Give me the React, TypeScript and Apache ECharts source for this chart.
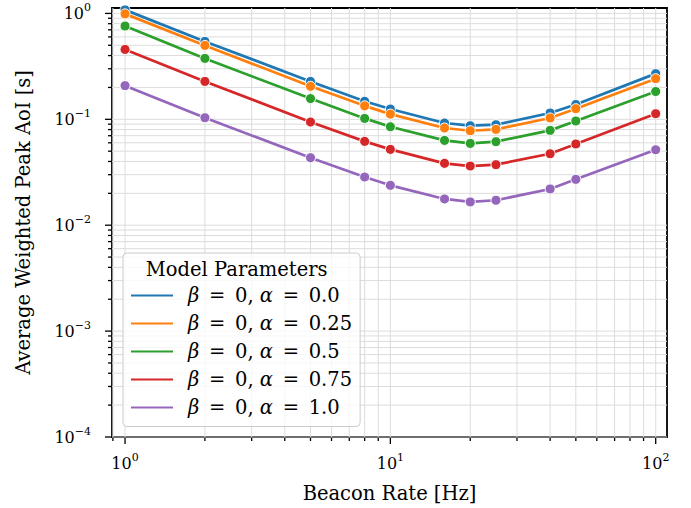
import React, { useEffect, useRef } from 'react';
import * as echarts from 'echarts';

// ---- data ----
const beaconRates = [1, 2, 5, 8, 10, 16, 20, 25, 40, 50, 100];
const aoiAlpha000 = [1.08, 0.544, 0.228, 0.148, 0.125, 0.0923, 0.087, 0.0889, 0.1147, 0.138, 0.27];
const aoiAlpha025 = [0.99, 0.499, 0.205, 0.134, 0.112, 0.0828, 0.078, 0.0803, 0.103, 0.126, 0.242];
const aoiAlpha050 = [0.76, 0.376, 0.157, 0.102, 0.0851, 0.0632, 0.0592, 0.0615, 0.0786, 0.0964, 0.183];
const aoiAlpha075 = [0.457, 0.228, 0.0943, 0.0619, 0.052, 0.0384, 0.0362, 0.0373, 0.0473, 0.0585, 0.113];
const aoiAlpha100 = [0.208, 0.1035, 0.0434, 0.0285, 0.0238, 0.0177, 0.0166, 0.0172, 0.022, 0.0271, 0.0516];

const seriesNames = [
  'β = 0, α = 0.0',
  'β = 0, α = 0.25',
  'β = 0, α = 0.5',
  'β = 0, α = 0.75',
  'β = 0, α = 1.0',
];
const seriesValues = [aoiAlpha000, aoiAlpha025, aoiAlpha050, aoiAlpha075, aoiAlpha100];
const seriesColors = ['#1f77b4', '#ff7f0e', '#2ca02c', '#d62728', '#9467bd'];

const xMajorTicks = [1, 10, 100];
const xMinorTicks = [0.9, 2, 3, 4, 5, 6, 7, 8, 9, 20, 30, 40, 50, 60, 70, 80, 90];
const yMajorTicks = [1e-4, 1e-3, 1e-2, 1e-1, 1];
const yMinorTicks = [
  2e-4, 3e-4, 4e-4, 5e-4, 6e-4, 7e-4, 8e-4, 9e-4,
  2e-3, 3e-3, 4e-3, 5e-3, 6e-3, 7e-3, 8e-3, 9e-3,
  2e-2, 3e-2, 4e-2, 5e-2, 6e-2, 7e-2, 8e-2, 9e-2,
  0.2, 0.3, 0.4, 0.5, 0.6, 0.7, 0.8, 0.9,
];

const X_MIN = 0.893;
const X_MAX = 110.3;
const Y_MIN = 1e-4;
const Y_MAX = 1.125;

const FONT = '"DejaVu Serif", "Liberation Serif", serif';
const GRID_COLOR = '#dcdcdc';

const powLabel = (v: number) => {
  const e = Math.log10(v);
  const r = Math.round(e);
  if (Math.abs(e - r) > 1e-6) return '';
  const s = r < 0 ? '\u2212' + Math.abs(r) : String(r);
  return `{b|10}{s|${s}}`;
};

const tickRich = {
  b: { fontSize: 16, fontFamily: FONT, color: '#000', lineHeight: 22 },
  s: { fontSize: 11, fontFamily: FONT, color: '#000', verticalAlign: 'top' as const },
};

export default function App() {
  const ref = useRef<HTMLDivElement>(null);

  useEffect(() => {
    document.body.style.margin = '0';
    if (!ref.current) return;
    const chart = echarts.init(ref.current, undefined, { renderer: 'svg' });

    // grid/tick helper data: [x, y, kind]; kind 0 x-minor, 1 x-major, 2 y-minor, 3 y-major
    const gridData: number[][] = [];
    xMinorTicks.forEach((v) => gridData.push([v, 0.01, 0]));
    xMajorTicks.forEach((v) => gridData.push([v, 0.01, 1]));
    yMinorTicks.forEach((v) => gridData.push([10, v, 2]));
    yMajorTicks.forEach((v) => gridData.push([10, v, 3]));

    const lineSeries = seriesNames.map((name, i) => ({
      name,
      type: 'line',
      data: beaconRates.map((x, j) => [x, seriesValues[i][j]]),
      symbol: 'circle',
      symbolSize: 10,
      showSymbol: true,
      color: seriesColors[i],
      lineStyle: { width: 2.7, color: seriesColors[i] },
      itemStyle: { color: seriesColors[i], borderColor: '#ffffff', borderWidth: 1 },
      emphasis: { disabled: true },
      z: 3,
    }));

    const legendRich = {
      i: { fontSize: 19.5, fontFamily: FONT, fontStyle: 'italic', color: '#000', lineHeight: 20 },
      eq: { fontSize: 19.5, fontFamily: FONT, color: '#000', lineHeight: 20, padding: [0, 3.5, 0, 3.5] },
    };

    chart.setOption({
      animation: false,
      textStyle: { fontFamily: FONT },
      grid: {
        left: 112,
        top: 8,
        width: 555,
        height: 429,
        show: true,
        borderColor: '#000',
        borderWidth: 1.8,
        backgroundColor: 'transparent',
      },
      xAxis: {
        type: 'log',
        logBase: 10,
        min: X_MIN,
        max: X_MAX,
        axisLine: { show: false },
        axisTick: { show: false },
        splitLine: { show: false },
        axisLabel: { formatter: powLabel, rich: tickRich, margin: 15 },
        name: 'Beacon Rate [Hz]',
        nameLocation: 'middle',
        nameGap: 46,
        nameTextStyle: { fontSize: 19.5, fontFamily: FONT, color: '#000' },
      },
      yAxis: {
        type: 'log',
        logBase: 10,
        min: Y_MIN,
        max: Y_MAX,
        axisLine: { show: false },
        axisTick: { show: false },
        splitLine: { show: false },
        axisLabel: { formatter: powLabel, rich: tickRich, margin: 21 },
        name: 'Average Weighted Peak AoI [s]',
        nameLocation: 'middle',
        nameGap: 79,
        nameTextStyle: { fontSize: 19.5, fontFamily: FONT, color: '#000' },
      },
      legend: {
        orient: 'vertical',
        left: 123,
        top: 253,
        padding: [32.5, 8, 9, 6],
        itemWidth: 44,
        itemHeight: 4,
        itemGap: 8,
        icon: 'rect',
        lineStyle: { width: 3.6 },
        selectedMode: false,
        backgroundColor: 'rgba(255,255,255,0.8)',
        borderColor: '#cccccc',
        borderWidth: 1,
        borderRadius: 4,
        data: seriesNames,
        formatter: (name: string) =>
          name.replace(/β/g, '{i|β}').replace(/α/g, '{i|α}').replace(/=/g, '{eq|=}'),
        textStyle: {
          fontSize: 19.5,
          fontFamily: FONT,
          color: '#000',
          lineHeight: 20,
          padding: [0, 0, 0, 9],
          rich: legendRich,
        },
        z: 5,
      },
      graphic: [
        {
          type: 'text',
          x: 236.7,
          y: 269.3,
          z: 10,
          style: {
            text: 'Model Parameters',
            fontSize: 19.5,
            fontFamily: FONT,
            fill: '#000',
            align: 'center',
            verticalAlign: 'middle',
          },
        },
      ],
      series: [
        {
          type: 'custom',
          name: '__grid',
          z: 1,
          silent: true,
          clip: false,
          encode: { x: 0, y: 1 },
          data: gridData,
          renderItem: (params: any, api: any) => {
            const cs = params.coordSys;
            const kind = api.value(2);
            const children: any[] = [];
            if (kind < 2) {
              const px = api.coord([api.value(0), 0.01])[0];
              children.push({
                type: 'line',
                shape: { x1: px, y1: cs.y, x2: px, y2: cs.y + cs.height },
                style: { stroke: GRID_COLOR, lineWidth: 1 },
              });
              const len = kind === 1 ? 7 : 4;
              children.push({
                type: 'line',
                shape: { x1: px, y1: cs.y + cs.height, x2: px, y2: cs.y + cs.height + len },
                style: { stroke: '#000', lineWidth: 1.3 },
              });
            } else {
              const py = api.coord([10, api.value(1)])[1];
              children.push({
                type: 'line',
                shape: { x1: cs.x, y1: py, x2: cs.x + cs.width, y2: py },
                style: { stroke: GRID_COLOR, lineWidth: 1 },
              });
              const len = kind === 3 ? 7 : 4;
              children.push({
                type: 'line',
                shape: { x1: cs.x - len, y1: py, x2: cs.x, y2: py },
                style: { stroke: '#000', lineWidth: 1.3 },
              });
            }
            return { type: 'group', children };
          },
        },
        ...lineSeries,
      ],
    });

    return () => chart.dispose();
  }, []);

  return <div ref={ref} style={{ width: 691, height: 508 }} />;
}
